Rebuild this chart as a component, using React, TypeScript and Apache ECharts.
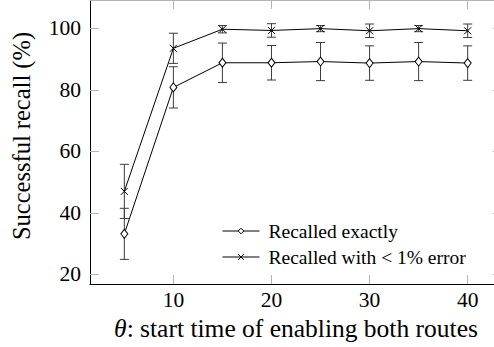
import React, { useEffect, useRef } from "react";
import * as echarts from "echarts";

const thetas = [5, 10, 15, 20, 25, 30, 35, 40];
const exactMean = [33.2, 80.8, 88.8, 88.8, 89.2, 88.7, 89.2, 88.7];
const exactErr = [8.3, 6.7, 6.4, 5.6, 6.2, 5.6, 6.2, 5.6];
const within1Mean = [47.0, 93.5, 99.7, 99.3, 99.9, 99.2, 99.9, 99.2];
const within1Err = [8.8, 4.9, 1.2, 2.2, 1.0, 2.2, 1.0, 2.2];
const xTicks = [10, 20, 30, 40];
const yTicks = [20, 40, 60, 80, 100];
const seriesNames = ["Recalled exactly", "Recalled with < 1% error"];

const FONT = "'Liberation Serif', 'Times New Roman', serif";
const TICK_GRAY = "#b4b4b4";

function errorSeries(means: number[], errs: number[]) {
  const data = thetas.map((t, i) => [t, means[i] - errs[i], means[i] + errs[i]]);
  return {
    type: "custom",
    silent: true,
    z: 1,
    data,
    renderItem: (params: any, api: any) => {
      const x = api.value(0);
      const lo = api.coord([x, api.value(1)]);
      const hi = api.coord([x, api.value(2)]);
      const cap = 4.5;
      const style = { stroke: "#3c3c3c", lineWidth: 1 };
      return {
        type: "group",
        children: [
          { type: "line", shape: { x1: lo[0], y1: lo[1], x2: hi[0], y2: hi[1] }, style },
          { type: "line", shape: { x1: lo[0] - cap, y1: lo[1], x2: lo[0] + cap, y2: lo[1] }, style },
          { type: "line", shape: { x1: hi[0] - cap, y1: hi[1], x2: hi[0] + cap, y2: hi[1] }, style },
        ],
      };
    },
  };
}

export default function App() {
  const ref = useRef<HTMLDivElement>(null);
  useEffect(() => {
    if (!ref.current) return;
    const chart = echarts.init(ref.current, null, { renderer: "svg" });
    const tick = { show: true, inside: true, length: 9, lineStyle: { color: TICK_GRAY, width: 1 } };
    chart.setOption({
      animation: false,
      backgroundColor: "#fff",
      textStyle: { fontFamily: FONT, color: "#000" },
      grid: {
        left: 90,
        top: 0,
        right: 0,
        bottom: 63,
        containLabel: false,
        outerBoundsMode: "none",
      },
      xAxis: [
        {
          type: "value",
          min: 1.5,
          max: 43.5,
          position: "bottom",
          splitLine: { show: false },
          axisLine: { show: true, onZero: false, lineStyle: { color: "#000", width: 1 } },
          axisTick: { ...tick, customValues: xTicks },
          axisLabel: {
            customValues: xTicks,
            margin: 5,
            color: "#000",
            fontFamily: FONT,
            fontSize: 21.5,
          },
          name: "{i|θ}: start time of enabling both routes",
          nameLocation: "middle",
          nameGap: 31,
          nameTextStyle: {
            color: "#000",
            fontFamily: FONT,
            fontSize: 25.5,
            rich: { i: { fontStyle: "italic", fontFamily: FONT, fontSize: 25.5, color: "#000" } },
          },
        },
        {
          type: "value",
          min: 1.5,
          max: 43.5,
          position: "top",
          splitLine: { show: false },
          axisLine: { show: true, onZero: false, lineStyle: { color: TICK_GRAY, width: 1 } },
          axisTick: { ...tick, customValues: xTicks },
          axisLabel: { show: false },
        },
      ],
      yAxis: [
        {
          type: "value",
          min: 16.9,
          max: 109.2,
          position: "left",
          splitLine: { show: false },
          axisLine: { show: true, onZero: false, lineStyle: { color: "#000", width: 1 } },
          axisTick: { ...tick, customValues: yTicks },
          axisLabel: {
            customValues: yTicks,
            margin: 9,
            color: "#000",
            fontFamily: FONT,
            fontSize: 21.5,
          },
          name: "Successful recall (%)",
          nameLocation: "middle",
          nameGap: 56,
          nameRotate: 90,
          nameTextStyle: { color: "#000", fontFamily: FONT, fontSize: 24.5, padding: [0, 0, 0, 12] },
        },
        {
          type: "value",
          min: 16.9,
          max: 109.2,
          position: "right",
          splitLine: { show: false },
          axisLine: { show: true, onZero: false, lineStyle: { color: TICK_GRAY, width: 1 } },
          axisTick: { ...tick, customValues: yTicks },
          axisLabel: { show: false },
        },
      ],
      legend: {
        orient: "vertical",
        left: 222,
        top: 221,
        itemWidth: 37,
        itemHeight: 7,
        itemGap: 6,
        padding: 0,
        lineStyle: { width: 1 },
        itemStyle: { borderWidth: 1 },
        textStyle: {
          color: "#000",
          fontFamily: FONT,
          fontSize: 19.5,
          lineHeight: 20,
          padding: [0, 0, 0, 4],
        },
        data: seriesNames,
      },
      series: [
        errorSeries(exactMean, exactErr),
        errorSeries(within1Mean, within1Err),
        {
          type: "line",
          name: seriesNames[0],
          z: 3,
          data: thetas.map((t, i) => [t, exactMean[i]]),
          symbol: "diamond",
          symbolSize: [7, 9],
          showAllSymbol: true,
          lineStyle: { color: "#000", width: 1 },
          itemStyle: { color: "#fff", borderColor: "#000", borderWidth: 1 },
        },
        {
          type: "line",
          name: seriesNames[1],
          z: 3,
          data: thetas.map((t, i) => [t, within1Mean[i]]),
          symbol: "path://M0,0L10,10M10,0L0,10",
          symbolSize: 7,
          showAllSymbol: true,
          lineStyle: { color: "#000", width: 1 },
          itemStyle: { color: "none", borderColor: "#000", borderWidth: 1 },
        },
      ],
    });
    return () => chart.dispose();
  }, []);
  return (
    <div
      style={{
        position: "absolute",
        left: 0,
        top: 0,
        width: 494,
        height: 347,
        overflow: "hidden",
        background: "#fff",
      }}
    >
      <div ref={ref} style={{ width: 502, height: 347 }} />
    </div>
  );
}
